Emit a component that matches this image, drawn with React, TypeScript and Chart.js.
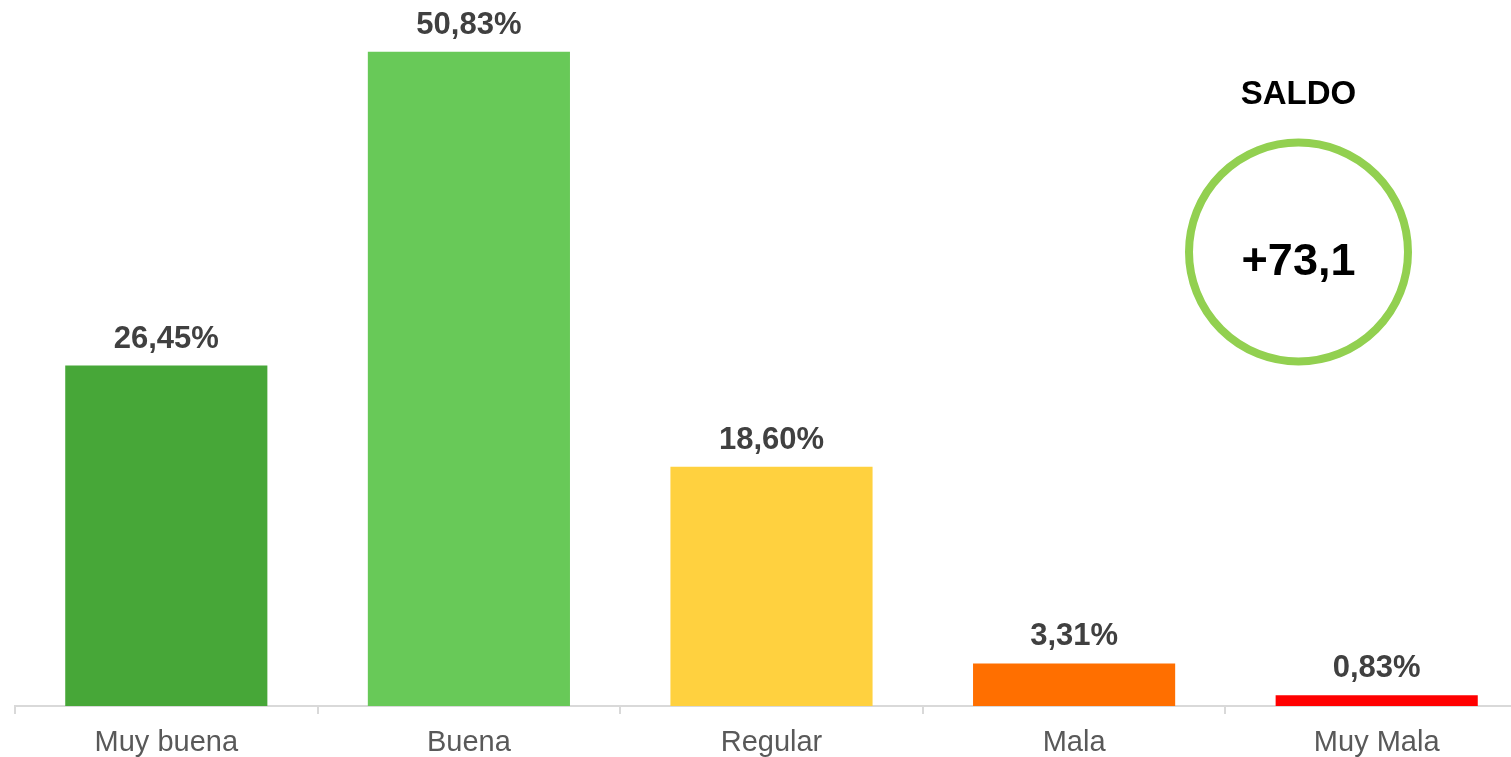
import React, { useEffect, useRef } from "react";
import { Chart, registerables } from "chart.js";

Chart.register(...registerables);

const categories = ["Muy buena", "Buena", "Regular", "Mala", "Muy Mala"];
const values = [26.45, 50.83, 18.6, 3.31, 0.83];
const barColors = ["#47A738", "#68C958", "#FFD13F", "#FF6F00", "#FF0000"];
const saldoTitle = "SALDO";
const saldoValue = "+73,1";

const FONT = "Arial, 'Liberation Sans', sans-serif";

const fmt = (v: number) => v.toFixed(2).replace(".", ",") + "%";

const labelsPlugin = {
  id: "valueLabels",
  afterDatasetsDraw(chart: any) {
    const ctx = chart.ctx;
    const meta = chart.getDatasetMeta(0);
    ctx.save();
    ctx.font = `bold 31px ${FONT}`;
    ctx.fillStyle = "#404040";
    ctx.textAlign = "center";
    ctx.textBaseline = "alphabetic";
    meta.data.forEach((el: any, i: number) => {
      ctx.fillText(fmt(values[i]), el.x, el.y - 18);
    });
    ctx.restore();
  },
};

const saldoPlugin = {
  id: "saldo",
  afterDraw(chart: any) {
    const ctx = chart.ctx;
    const cx = 1298.5;
    const cy = 252;
    ctx.save();
    ctx.beginPath();
    ctx.arc(cx, cy, 109.5, 0, Math.PI * 2);
    ctx.lineWidth = 8;
    ctx.strokeStyle = "#92D050";
    ctx.stroke();
    ctx.fillStyle = "#000000";
    ctx.textAlign = "center";
    ctx.textBaseline = "alphabetic";
    ctx.font = `bold 33px ${FONT}`;
    ctx.fillText(saldoTitle, cx, 104);
    ctx.font = `bold 45px ${FONT}`;
    ctx.fillText(saldoValue, cx, 275);
    ctx.restore();
  },
};

export default function App() {
  const ref = useRef<HTMLCanvasElement | null>(null);
  useEffect(() => {
    if (!ref.current) return;
    const chart = new Chart(ref.current, {
      type: "bar",
      data: {
        labels: categories,
        datasets: [
          {
            data: values,
            backgroundColor: barColors,
            borderWidth: 0,
            barPercentage: 0.668,
            categoryPercentage: 1,
          },
        ],
      },
      options: {
        responsive: false,
        animation: false,
        devicePixelRatio: 1,
        layout: { padding: { left: 15, right: 0, top: 0, bottom: 0 } },
        plugins: { legend: { display: false }, tooltip: { enabled: false } },
        scales: {
          x: {
            offset: true,
            grid: {
              offset: true,
              drawOnChartArea: false,
              drawTicks: true,
              tickLength: 8,
              color: "#D9D9D9",
              lineWidth: 2,
            },
            border: { display: true, color: "#D9D9D9", width: 2 },
            ticks: {
              color: "#595959",
              font: { family: FONT, size: 29 },
              padding: 12,
              maxRotation: 0,
              autoSkip: false,
            },
            afterFit(scale: any) {
              scale.height = 51;
            },
          },
          y: {
            display: false,
            min: 0,
            max: 54.86,
          },
        },
      },
      plugins: [labelsPlugin, saldoPlugin],
    });
    return () => chart.destroy();
  }, []);
  return (
    <div
      style={{
        position: "fixed",
        left: 0,
        top: 0,
        width: 1511,
        height: 757,
        overflow: "hidden",
        background: "#fff",
      }}
    >
      <canvas ref={ref} width={1528} height={757} style={{ display: "block" }} />
    </div>
  );
}
